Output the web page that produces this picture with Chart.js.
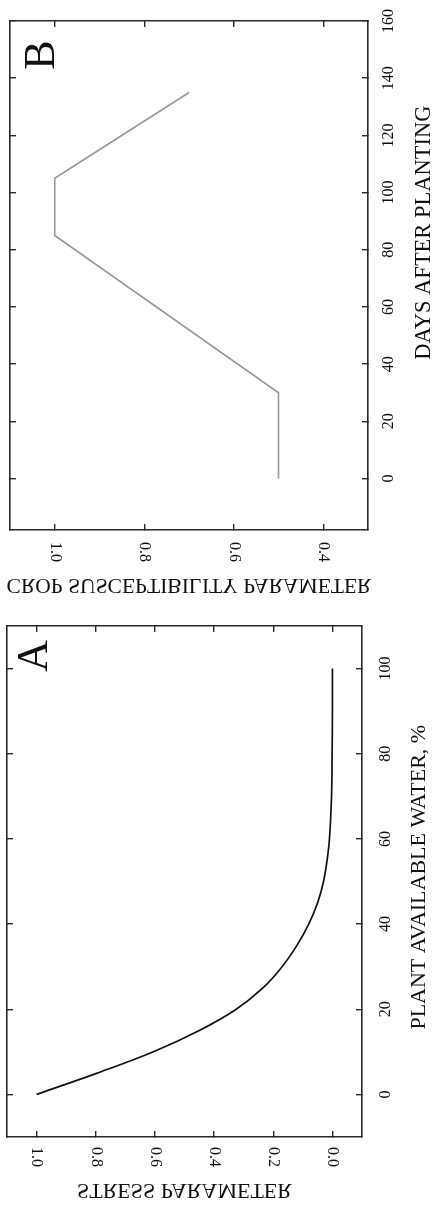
<!DOCTYPE html>
<html>
<head>
<meta charset="utf-8">
<script src="https://cdn.jsdelivr.net/npm/chart.js@4.4.1/dist/chart.umd.min.js"></script>
<style>
  html, body { margin: 0; padding: 0; background: #fff; }
  #wrap { position: relative; width: 433px; height: 1208px; }
  canvas { position: absolute; left: 0; }
</style>
</head>
<body>
<div id="wrap">
  <canvas id="chartB" width="433" height="605" style="top:0"></canvas>
  <canvas id="chartA" width="433" height="603" style="top:605px"></canvas>
</div>
<script>
// Panel A: stress parameter vs plant available water
const waterA  = [0, 5, 10, 15, 20, 25, 30, 35, 40, 45, 50, 55, 60, 70, 80, 90, 100];
const stressA = [1.0, 0.795, 0.605, 0.45, 0.325, 0.235, 0.17, 0.12, 0.08, 0.05, 0.03, 0.018, 0.01, 0.003, 0.001, 0, 0];
const stressTicksA = [0, 0.2, 0.4, 0.6, 0.8, 1.0];
const waterTicksA  = [0, 20, 40, 60, 80, 100];

// Panel B: crop susceptibility vs days after planting
const daysB = [0, 30, 85, 105, 135];
const suscB = [0.5, 0.5, 1.0, 1.0, 0.7];
const suscTicksB = [0.4, 0.6, 0.8, 1.0];
const daysTicksB = [0, 20, 40, 60, 80, 100, 120, 140, 160];

const FONT = '"Liberation Serif", "DejaVu Serif", serif';
const INK = '#111';

// frame axis: border + inward tick marks, labels drawn by the plugin below
const frameAxis = (pos, min, max, ticks, reverse) => ({
  type: 'linear',
  position: pos,
  min: min,
  max: max,
  reverse: !!reverse,
  afterFit: (s) => { if (s.isHorizontal()) s.height = 0; else s.width = 0; },
  afterBuildTicks: (s) => { s.ticks = ticks.map(v => ({ value: v })); },
  grid: { drawOnChartArea: false, drawTicks: true, tickLength: -6, color: '#2a2a2a', lineWidth: 1.4 },
  border: { display: true, color: '#2a2a2a', width: 1.6 },
  ticks: { display: false }
});

// rotated tick labels, mirrored title, panel letter
const panelText = {
  id: 'panelText',
  afterDraw(chart, args, o) {
    const { ctx, chartArea: ca, scales } = chart;
    const xs = scales.x, ys = scales.y;
    ctx.save();
    ctx.fillStyle = INK;

    ctx.font = o.tickSize + 'px ' + FONT;
    o.xTicks.forEach(v => {
      ctx.save();
      ctx.translate(xs.getPixelForValue(v), ca.bottom + o.xTickGap);
      ctx.rotate(Math.PI / 2);
      ctx.textAlign = 'left';
      ctx.textBaseline = 'middle';
      ctx.fillText(v.toFixed(1), 0, 0);
      ctx.restore();
    });
    o.yTicks.forEach(v => {
      ctx.save();
      ctx.translate(ca.right + o.yTickGap, ys.getPixelForValue(v));
      ctx.rotate(-Math.PI / 2);
      ctx.textAlign = 'center';
      ctx.textBaseline = 'middle';
      ctx.fillText(String(v), 0, 0);
      ctx.restore();
    });

    // y title of the original figure comes out mirrored
    ctx.font = o.xTitleSize + 'px ' + FONT;
    ctx.save();
    ctx.translate((ca.left + ca.right) / 2, ca.bottom + o.xTitleGap);
    ctx.scale(1, -1);
    ctx.textAlign = 'center';
    ctx.textBaseline = 'middle';
    ctx.fillText(o.xTitle, 0, 0);
    ctx.restore();

    ctx.font = o.yTitleSize + 'px ' + FONT;
    ctx.save();
    ctx.translate(ca.right + o.yTitleGap, ys.getPixelForValue(o.yTitleAt));
    ctx.rotate(-Math.PI / 2);
    ctx.textAlign = 'center';
    ctx.textBaseline = 'middle';
    ctx.fillText(o.yTitle, 0, 0);
    ctx.restore();

    ctx.font = o.letterSize + 'px ' + FONT;
    ctx.save();
    ctx.translate(ca.left + o.letterX, ca.top + o.letterY);
    ctx.rotate(-Math.PI / 2);
    ctx.textAlign = 'center';
    ctx.textBaseline = 'middle';
    ctx.fillText(o.letter, 0, 0);
    ctx.restore();

    ctx.restore();
  }
};

const baseOptions = (pad, xMin, xMax, xTicks, yMin, yMax, yTicks, text) => ({
  responsive: false,
  animation: false,
  events: [],
  layout: { padding: pad },
  elements: { point: { radius: 0 } },
  scales: {
    x:  frameAxis('bottom', xMin, xMax, xTicks, true),
    x2: frameAxis('top', xMin, xMax, xTicks, true),
    y:  frameAxis('right', yMin, yMax, yTicks),
    y2: frameAxis('left', yMin, yMax, yTicks)
  },
  plugins: {
    legend: { display: false },
    tooltip: { enabled: false },
    panelText: text
  }
});

new Chart(document.getElementById('chartA'), {
  type: 'scatter',
  data: {
    datasets: [{
      data: waterA.map((w, i) => ({ x: stressA[i], y: w })),
      showLine: true,
      borderColor: '#111',
      borderWidth: 1.7,
      tension: 0.4
    }]
  },
  options: baseOptions(
    { left: 7, right: 71, top: 21, bottom: 71 },
    -0.1, 1.1, stressTicksA, -10, 110, waterTicksA,
    {
      xTicks: stressTicksA, yTicks: waterTicksA,
      tickSize: 16, xTitleSize: 22, yTitleSize: 22, letterSize: 44,
      xTickGap: 10, yTickGap: 24, xTitleGap: 53, yTitleGap: 57, yTitleAt: 51,
      xTitle: 'STRESS PARAMETER', yTitle: 'PLANT AVAILABLE WATER, %',
      letter: 'A', letterX: 28, letterY: 30
    }
  ),
  plugins: [panelText]
});

new Chart(document.getElementById('chartB'), {
  type: 'scatter',
  data: {
    datasets: [{
      data: daysB.map((d, i) => ({ x: suscB[i], y: d })),
      showLine: true,
      borderColor: '#999',
      borderWidth: 1.6,
      tension: 0
    }]
  },
  options: baseOptions(
    { left: 10, right: 65, top: 21, bottom: 75 },
    0.3, 1.1, suscTicksB, -18, 160, daysTicksB,
    {
      xTicks: suscTicksB, yTicks: daysTicksB,
      tickSize: 16, xTitleSize: 21.5, yTitleSize: 22.5, letterSize: 44,
      xTickGap: 12, yTickGap: 21, xTitleGap: 55, yTitleGap: 56, yTitleAt: 86,
      xTitle: 'CROP SUSCEPTIBILITY PARAMETER', yTitle: 'DAYS AFTER PLANTING',
      letter: 'B', letterX: 32, letterY: 34
    }
  ),
  plugins: [panelText]
});
</script>
</body>
</html>
